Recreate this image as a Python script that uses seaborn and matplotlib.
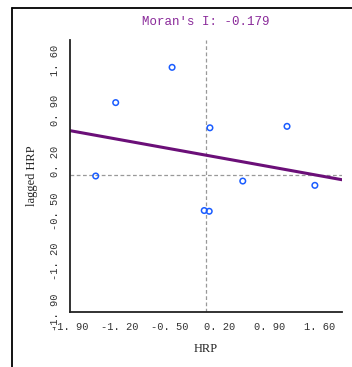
import numpy as np
import pandas as pd
import matplotlib
matplotlib.use("Agg")
import matplotlib.pyplot as plt
import seaborn as sns
from matplotlib.lines import Line2D

# Data (standardized HRP vs spatially lagged HRP)
hrp = [-0.47, -1.26, 0.06, 1.14, -1.54, 0.52, 1.53, -0.02, 0.05]
lagged_hrp = [1.50, 1.01, 0.66, 0.68, -0.01, -0.08, -0.14, -0.49, -0.50]
moran_i = -0.179
intercept = 0.28
tick_values = [-1.90, -1.20, -0.50, 0.20, 0.90, 1.60]
tick_labels = ["-1. 90", "-1. 20", "-0. 50", "0. 20", "0. 90", "1. 60"]

df = pd.DataFrame({"HRP": hrp, "lagged HRP": lagged_hrp})

sns.set_style("white")
plt.rcParams['font.family'] = ['Liberation Mono', 'DejaVu Sans']

fig = plt.figure(figsize=(3.52, 3.67), dpi=100)
ax = fig.add_axes([70 / 352, 1 - 312 / 367, 272 / 352, 272 / 367])

# mean reference lines
ax.axvline(0, color="#999999", linestyle=(0, (3, 2)), linewidth=0.9, zorder=1)
ax.axhline(0, color="#999999", linestyle=(0, (3, 2)), linewidth=0.9, zorder=1)

# regression line (slope = Moran's I)
ax.axline((0, intercept), slope=moran_i, color="#6b0f78", linewidth=2.2, zorder=2)

sns.scatterplot(data=df, x="HRP", y="lagged HRP", ax=ax, marker="o", s=16,
                facecolor="none", edgecolor="#1a5cff", linewidth=1.1, zorder=3)

ax.set_xlim(-1.9, 1.91)
ax.set_ylim(-1.9, 1.88)
ax.set_xticks(tick_values)
ax.set_xticklabels(tick_labels, fontsize=7.5, color="#333333")
ax.set_yticks(tick_values)
ax.set_yticklabels(tick_labels, fontsize=7.5, color="#333333", rotation=90, va="center")

for side in ["top", "right"]:
    ax.spines[side].set_visible(False)
for side in ["left", "bottom"]:
    ax.spines[side].set_color("#222222")
    ax.spines[side].set_linewidth(1.3)
ax.tick_params(axis="both", direction="out", length=4, width=1.2, color="#222222", pad=3)

ax.set_xlabel("HRP", family="Liberation Serif", fontsize=9, labelpad=8)
ax.set_ylabel("lagged HRP", family="Liberation Serif", fontsize=9, labelpad=9)
ax.set_title(f"Moran's I: {moran_i:.3f}", color="#8a2a9a", fontsize=9, pad=11)

# outer frame (left and top edges)
fig.add_artist(Line2D([12 / 352, 12 / 352], [0, 1 - 8 / 367], transform=fig.transFigure,
                      color="black", linewidth=1.3))
fig.add_artist(Line2D([12 / 352, 1], [1 - 8 / 367, 1 - 8 / 367], transform=fig.transFigure,
                      color="black", linewidth=1.3))

fig.savefig("out.png", dpi=100)
